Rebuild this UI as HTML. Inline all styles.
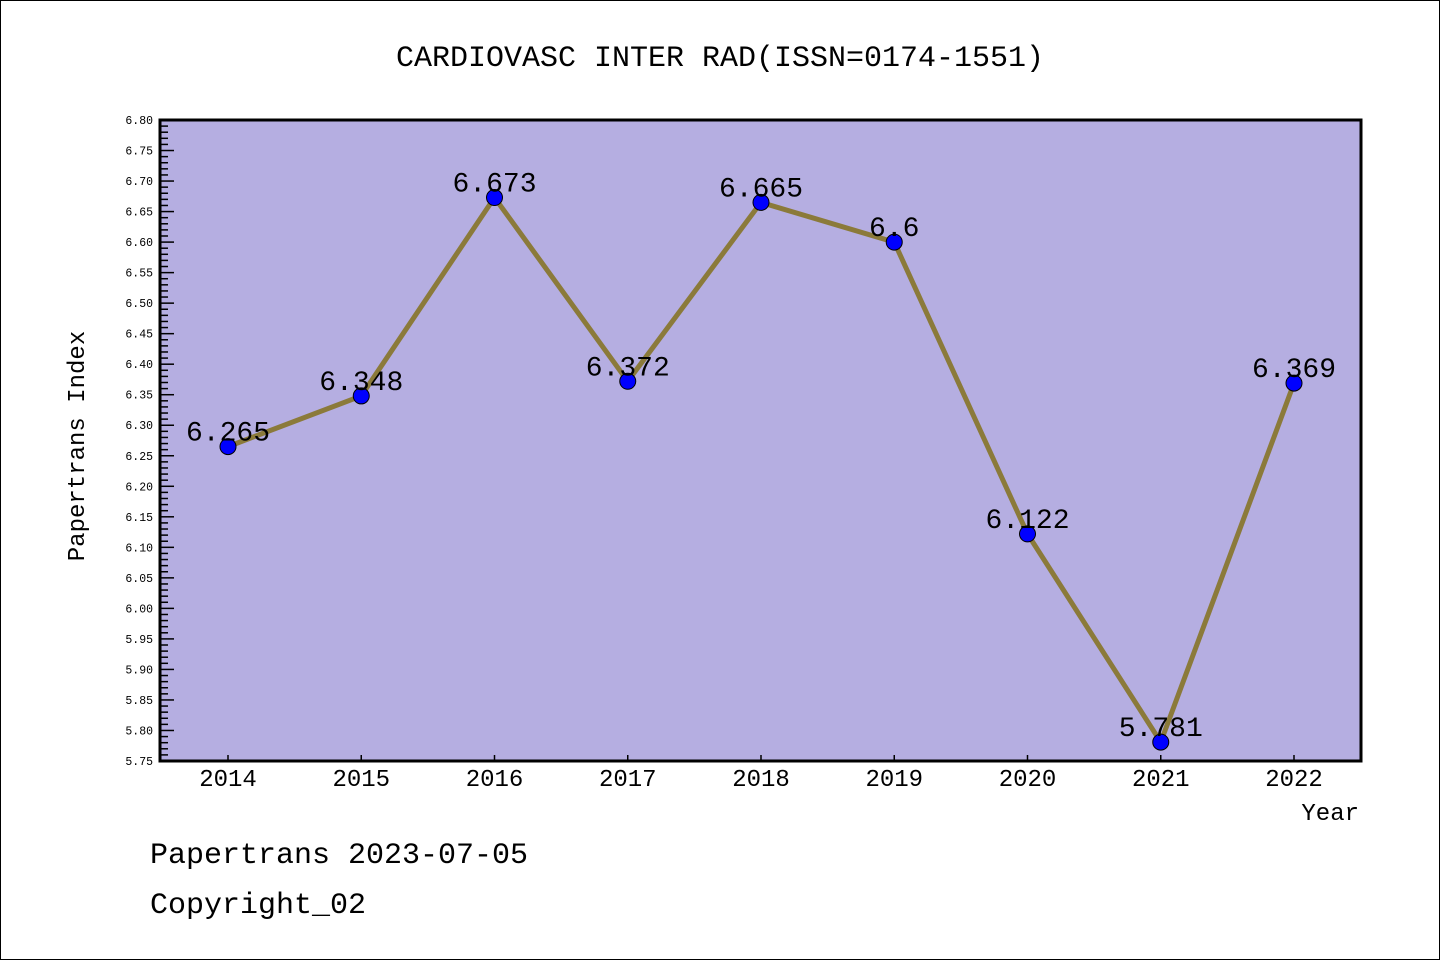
<!DOCTYPE html>
<html><head><meta charset="utf-8"><style>
html,body{margin:0;padding:0;background:#fff}
svg{display:block}
text{font-family:"Liberation Mono","DejaVu Sans Mono",monospace}
</style></head><body>
<svg id="c" width="1440" height="960" xmlns="http://www.w3.org/2000/svg">
<rect x="0.5" y="0.5" width="1439" height="959" fill="#fff" stroke="#000"/>
<text x="720" y="66" text-anchor="middle" font-size="30">CARDIOVASC INTER RAD(ISSN=0174-1551)</text>
<rect x="160" y="120" width="1201" height="641" fill="#b5aee1"/>
<g id="ticks"></g>
<g id="series"></g>
<rect x="160" y="120" width="1201" height="641" fill="none" stroke="#000" stroke-width="3"/>
<text transform="translate(84,446) rotate(-90)" text-anchor="middle" font-size="24">Papertrans Index</text>
<text x="1359" y="820" text-anchor="end" font-size="24">Year</text>
<text x="150" y="863" font-size="30">Papertrans 2023-07-05</text>
<text x="150" y="913" font-size="30">Copyright_02</text>
</svg>
<script>
const years=[2014,2015,2016,2017,2018,2019,2020,2021,2022];
const values=[6.265,6.348,6.673,6.372,6.665,6.6,6.122,5.781,6.369];
const labels=["6.265","6.348","6.673","6.372","6.665","6.6","6.122","5.781","6.369"];
const yMin=5.75,yMax=6.80;
const NS="http://www.w3.org/2000/svg";
function ys(v){return 761-(v-yMin)/(yMax-yMin)*641;}
function xs(i){return 228+i*(1294-228)/(years.length-1);}
function mk(t,a,p){const e=document.createElementNS(NS,t);for(const k in a)e.setAttribute(k,a[k]);p.appendChild(e);return e;}
const tg=document.getElementById('ticks');
for(let k=0;k<=105;k++){
 const v=yMin+k*0.01,y=ys(v),major=k%5===0;
 const l=mk('line',{x1:160,x2:major?174:168,y1:y,y2:y,stroke:'#000','stroke-width':1.5},tg);
 
 
 if(major){
  const t=mk('text',{x:153,y:y+4,'text-anchor':'end','font-size':11.5,'font-family':'DejaVu Sans, sans-serif'},tg);
  t.textContent=v.toFixed(2);
  
  
 }
}
years.forEach((yr,i)=>{
 const x=xs(i);
 const l=mk('line',{x1:x,x2:x,y1:761,y2:755,stroke:'#000','stroke-width':1.5},tg);
 
 
 const t=mk('text',{x:x,y:786,'text-anchor':'middle','font-size':24,'font-family':'DejaVu Sans, Liberation Sans, sans-serif'},tg);
 t.textContent=yr;
 
 
});
const sg=document.getElementById('series');
const pl=mk('polyline',{points:values.map((v,i)=>xs(i)+','+ys(v)).join(' '),fill:'none',stroke:'#8b7a3a','stroke-width':5},sg);


values.forEach((v,i)=>{
 const c=mk('circle',{cx:xs(i),cy:ys(v),r:8,fill:'#0000ff',stroke:'#000','stroke-width':1},sg);
 
 
 const t=mk('text',{x:xs(i),y:ys(v)-6,'text-anchor':'middle','font-size':28},sg);
 t.textContent=labels[i];
 
 
});
</script>
</body></html>
